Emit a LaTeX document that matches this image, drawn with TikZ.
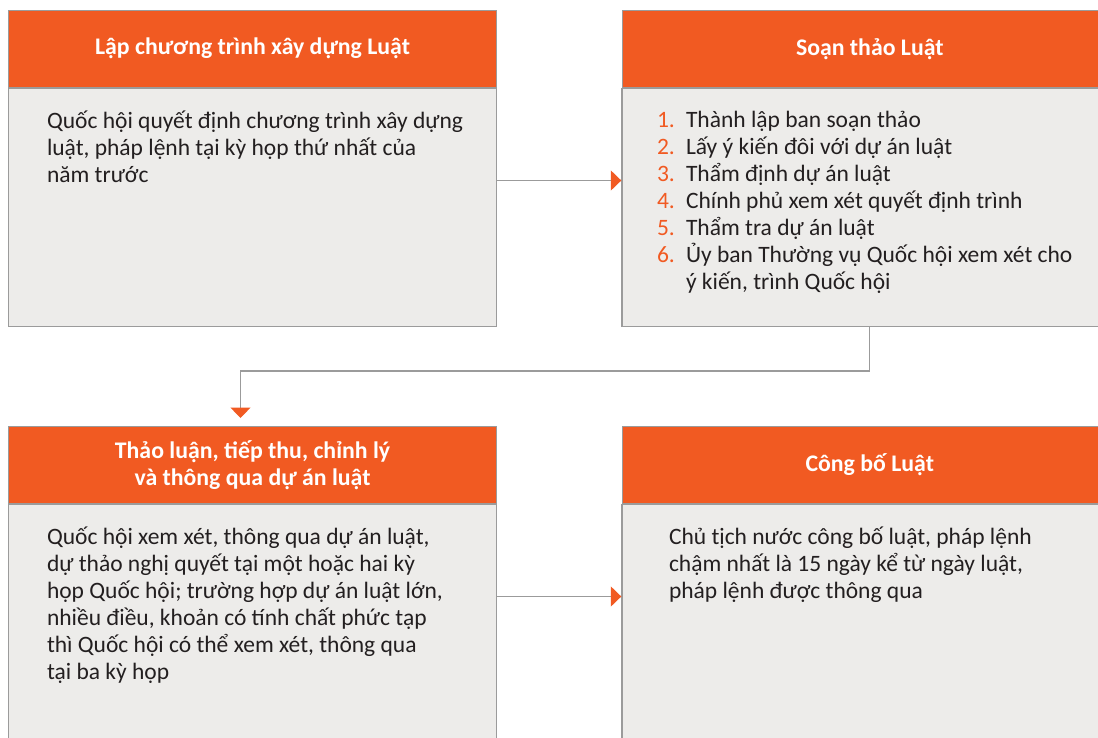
\documentclass[tikz,border=0pt]{standalone}
\usepackage{fontspec}
\setmainfont{Carlito}
\usetikzlibrary{arrows.meta,calc}
\definecolor{orangeC}{HTML}{F15A22}
\definecolor{bodyC}{HTML}{EDECEA}
\definecolor{edgeC}{HTML}{9B9B9B}
\definecolor{inkC}{HTML}{231F20}
\tikzset{
  hdr/.style={rectangle, fill=orangeC, draw=edgeC, line width=1pt, minimum width=488pt, minimum height=76.5pt, inner sep=0pt, anchor=north west, text=white, align=center, font=\fontsize{23.8}{27}\selectfont\bfseries},
  bodybox/.style={rectangle, fill=bodyC, draw=edgeC, line width=1.4pt, minimum width=488pt, inner sep=0pt, anchor=north},
  txt/.style={anchor=north west, inner sep=0pt, text=inkC, align=left, font=\fontsize{23.5}{27}\selectfont},
  conn/.style={draw=edgeC, line width=1.2pt, -{Triangle[length=10.5pt,width=20pt,color=orangeC]}},
}
\newcommand{\num}[1]{\makebox[29pt][l]{\color{orangeC}#1}}
\begin{document}
\begin{tikzpicture}[x=1pt,y=-1pt]
\useasboundingbox (0,0) rectangle (1098,737);
\clip (0,0) rectangle (1098,737);
\fill[white] (0,0) rectangle (1098,737);
% box 1
\node[hdr] (h1) at (8,10) {Lập chương trình xây dựng Luật};
\node[bodybox, minimum height=238.5pt] (b1) at (h1.south) {};
\node[txt] (t1) at ($(b1.north west)+(39,23)$) {Quốc hội quyết định chương trình xây dựng\\luật, pháp lệnh tại kỳ họp thứ nhất của\\năm trước};
% box 2
\node[hdr, minimum width=495.5pt] (h2) at (621.5,10) {Soạn thảo Luật};
\node[bodybox, minimum width=495.5pt, minimum height=238.5pt] (b2) at (h2.south) {};
\node[txt] (t2) at ($(b2.north west)+(35.5,23)$) {\num{1.}Thành lập ban soạn thảo\\\num{2.}Lấy ý kiến đôi với dự án luật\\\num{3.}Thẩm định dự án luật\\\num{4.}Chính phủ xem xét quyết định trình\\\num{5.}Thẩm tra dự án luật\\\num{6.}Ủy ban Thường vụ Quốc hội xem xét cho\\\hspace*{29pt}ý kiến, trình Quốc hội};
% box 3
\node[hdr] (h3) at (8,426) {Thảo luận, tiếp thu, chỉnh lý\\và thông qua dự án luật};
\node[bodybox, minimum height=260pt] (b3) at (h3.south) {};
\node[txt] (t3) at ($(b3.north west)+(39,23)$) {Quốc hội xem xét, thông qua dự án luật,\\dự thảo nghị quyết tại một hoặc hai kỳ\\họp Quốc hội; trường hợp dự án luật lớn,\\nhiều điều, khoản có tính chất phức tạp\\thì Quốc hội có thể xem xét, thông qua\\tại ba kỳ họp};
% box 4
\node[hdr, minimum width=495.5pt] (h4) at (621.5,426) {Công bố Luật};
\node[bodybox, minimum width=495.5pt, minimum height=260pt] (b4) at (h4.south) {};
\node[txt] (t4) at ($(b4.north west)+(47.5,23)$) {Chủ tịch nước công bố luật, pháp lệnh\\chậm nhất là 15 ngày kể từ ngày luật,\\pháp lệnh được thông qua};
% connectors
\coordinate (a1) at ($(b1.north east)+(0,93)$);
\draw[conn] (a1) -- (a1 -| b2.west);
\coordinate (a2) at ($(h3.north)+(-12,-55)$);
\coordinate (a2e) at ($(h3.north)+(-12,-8)$);
\draw[conn] (b2.south) |- (a2) -- (a2e);
\coordinate (a3) at ($(b3.north east)+(0,93)$);
\draw[conn] (a3) -- (a3 -| b4.west);
\end{tikzpicture}
\end{document}
